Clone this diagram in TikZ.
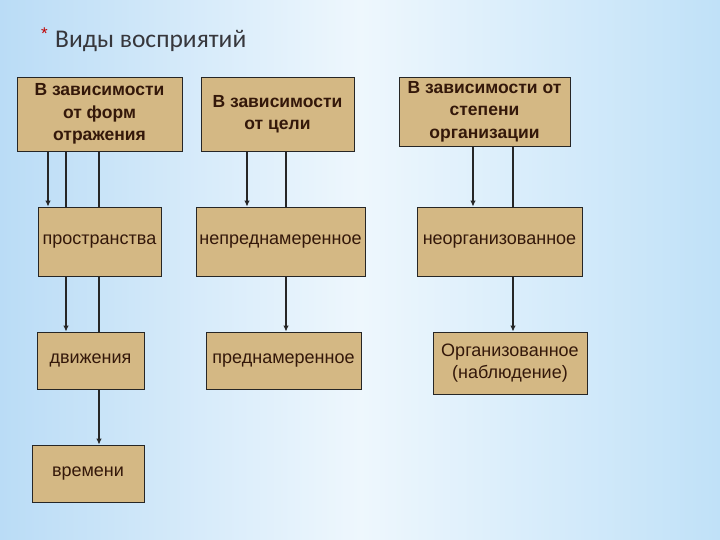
\documentclass[tikz,border=0pt]{standalone}
\usepackage{fontspec}
\setmainfont{Liberation Sans}
\newfontfamily\titlefont{Carlito}
\usetikzlibrary{arrows.meta,backgrounds}
\definecolor{boxfill}{RGB}{212,184,132}
\definecolor{boxtext}{RGB}{52,24,10}
\definecolor{bgl}{RGB}{186,220,246}
\definecolor{bgm}{RGB}{238,247,253}
\definecolor{bgr}{RGB}{192,225,248}
\definecolor{titlegray}{RGB}{55,55,60}

\begin{document}
\begin{tikzpicture}[x=1pt,y=-1pt,
    head/.style={draw=black!85,line width=0.8pt,fill=boxfill,text=boxtext,align=center,
        font=\fontsize{17.5}{22.5}\selectfont\bfseries,inner sep=1pt},
    kind/.style={draw=black!85,line width=0.8pt,fill=boxfill,text=boxtext,align=center,
        font=\fontsize{18}{22}\selectfont,inner sep=1pt},
    conn/.style={draw=black!85,line width=1.1pt,-{Latex[length=6pt,width=5.5pt]}}]
    \useasboundingbox (0,0) rectangle (720,540);

    \node[anchor=base west,text=red!75!black,font=\fontsize{17}{17}\selectfont,inner sep=0pt] (star) at (41,40) {*};
    \node[anchor=base west,text=titlegray,font=\titlefont\fontsize{25.5}{28}\selectfont,inner sep=0pt] (title) at (55,48) {Виды восприятий};

    \node[head,minimum width=165pt,minimum height=74pt] (a1) at (99.5,114) {В зависимости\\от форм\\отражения};
    \node[head,minimum width=153pt,minimum height=74pt] (b1) at (277.5,114) {В зависимости\\от цели};
    \node[head,minimum width=171pt,minimum height=69pt] (c1) at (484.5,111.5) {В зависимости от\\степени\\организации};

    \node[kind,minimum width=123pt,minimum height=69pt] (a2) at (99.5,241.5) {пространства};
    \node[kind,minimum width=169pt,minimum height=69pt] (b2) at (280.5,241.5) {непреднамеренное};
    \node[kind,minimum width=165pt,minimum height=69pt] (c2) at (499.5,241.5) {неорганизованное};

    \node[kind,minimum width=107pt,minimum height=57pt] (a3) at (90.5,360.5) {движения};
    \node[kind,minimum width=155pt,minimum height=57pt] (b3) at (283.5,360.5) {преднамеренное};
    \node[kind,minimum width=154pt,minimum height=62pt] (c3) at (510,363) {Организованное\\(наблюдение)};

    \node[kind,minimum width=112pt,minimum height=57pt] (a4) at (88,473.5) {времени};

    \begin{scope}[on background layer]
        \shade[left color=bgl,right color=bgr,middle color=bgm] (0,0) rectangle (720,540);
        \foreach \x/\s/\t in {48/a1/a2, 66/a1/a3, 99/a1/a4, 247/b1/b2, 286/b1/b3, 473/c1/c2, 513/c1/c3} {
            \draw[conn] (\s.south -| \x,0) -- (\t.north -| \x,0);
        }
    \end{scope}
\end{tikzpicture}
\end{document}
